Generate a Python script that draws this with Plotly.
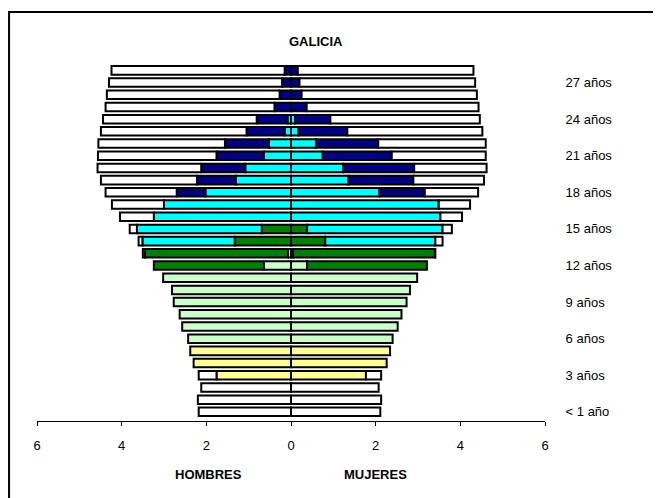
"""Pirámide de población escolarizada - Galicia."""
import plotly.graph_objects as go

# edades 0..28
ages = list(range(29))
tick_ages = [0, 3, 6, 9, 12, 15, 18, 21, 24, 27]
tick_labels = ["< 1 año", "3 años", "6 años", "9 años", "12 años", "15 años",
               "18 años", "21 años", "24 años", "27 años"]

# HOMBRES (miles)
total_h = [2.18, 2.20, 2.12, 2.18, 2.30, 2.38, 2.43, 2.57, 2.63, 2.77, 2.81, 3.02,
           3.24, 3.50, 3.60, 3.81, 4.04, 4.23, 4.38, 4.49, 4.57, 4.56, 4.55, 4.49,
           4.44, 4.38, 4.35, 4.30, 4.24]
infantil_h = [0, 0, 0, 1.76, 2.30, 2.38, 0, 0, 0, 0, 0, 0, 0, 0, 0, 0, 0, 0, 0, 0,
              0, 0, 0, 0, 0, 0, 0, 0, 0]
primaria_h = [0, 0, 0, 0, 0, 0, 2.43, 2.57, 2.63, 2.77, 2.81, 3.02, 0.64, 0.07, 0, 0,
              0, 0, 0, 0, 0, 0, 0, 0, 0, 0, 0, 0, 0]
eso_h = [0, 0, 0, 0, 0, 0, 0, 0, 0, 0, 0, 0, 2.60, 3.38, 1.33, 0.69, 0, 0, 0, 0, 0,
         0, 0, 0, 0, 0, 0, 0, 0]
secundaria_h = [0, 0, 0, 0, 0, 0, 0, 0, 0, 0, 0, 0, 0, 0, 2.18, 2.95, 3.24, 3.00,
                2.02, 1.30, 1.08, 0.64, 0.52, 0.15, 0.08, 0, 0, 0, 0]
universidad_h = [0, 0, 0, 0, 0, 0, 0, 0, 0, 0, 0, 0, 0, 0, 0, 0, 0, 0, 0.68, 0.92,
                 1.04, 1.12, 1.04, 0.90, 0.73, 0.39, 0.27, 0.21, 0.15]

# MUJERES (miles)
total_m = [2.11, 2.13, 2.07, 2.13, 2.26, 2.34, 2.40, 2.52, 2.61, 2.73, 2.81, 2.98,
           3.21, 3.41, 3.58, 3.80, 4.04, 4.23, 4.42, 4.56, 4.62, 4.60, 4.60, 4.52,
           4.46, 4.43, 4.39, 4.35, 4.31]
infantil_m = [0, 0, 0, 1.77, 2.26, 2.34, 0, 0, 0, 0, 0, 0, 0, 0, 0, 0, 0, 0, 0, 0,
              0, 0, 0, 0, 0, 0, 0, 0, 0]
primaria_m = [0, 0, 0, 0, 0, 0, 2.40, 2.52, 2.61, 2.73, 2.81, 2.98, 0.38, 0.05, 0, 0,
              0, 0, 0, 0, 0, 0, 0, 0, 0, 0, 0, 0, 0]
eso_m = [0, 0, 0, 0, 0, 0, 0, 0, 0, 0, 0, 0, 2.83, 3.35, 0.81, 0.38, 0, 0, 0, 0, 0,
         0, 0, 0, 0, 0, 0, 0, 0]
secundaria_m = [0, 0, 0, 0, 0, 0, 0, 0, 0, 0, 0, 0, 0, 0, 2.60, 3.20, 3.53, 3.49,
                2.09, 1.36, 1.24, 0.75, 0.59, 0.18, 0.10, 0, 0, 0, 0]
universidad_m = [0, 0, 0, 0, 0, 0, 0, 0, 0, 0, 0, 0, 0, 0, 0, 0, 0, 0, 1.07, 1.53,
                 1.67, 1.63, 1.47, 1.15, 0.83, 0.37, 0.25, 0.20, 0.16]

levels = [
    ("Infantil", infantil_h, infantil_m, "#FFFF99"),
    ("Primaria", primaria_h, primaria_m, "#CCFFCC"),
    ("ESO", eso_h, eso_m, "#008000"),
    ("Secundaria", secundaria_h, secundaria_m, "#00FFFF"),
    ("Universidad", universidad_h, universidad_m, "#000080"),
]


def rest(total, parts):
    return [max(t - sum(p[i] for p in parts), 0) for i, t in enumerate(total)]


def clean(vals, sign):
    return [sign * v if v > 0.005 else None for v in vals]


fig = go.Figure()
line = dict(color="black", width=2)

for name, h, m, color in levels:
    fig.add_trace(go.Bar(y=ages, x=clean(h, -1), orientation="h", name=name,
                         marker=dict(color=color, line=line), showlegend=False))
    fig.add_trace(go.Bar(y=ages, x=clean(m, 1), orientation="h", name=name,
                         marker=dict(color=color, line=line), showlegend=False))

resto_h = rest(total_h, [lv[1] for lv in levels])
resto_m = rest(total_m, [lv[2] for lv in levels])
fig.add_trace(go.Bar(y=ages, x=clean(resto_h, -1), orientation="h", name="No escolarizados",
                     marker=dict(color="white", line=line), showlegend=False))
fig.add_trace(go.Bar(y=ages, x=clean(resto_m, 1), orientation="h", name="No escolarizadas",
                     marker=dict(color="white", line=line), showlegend=False))

font = "Liberation Sans, Arial, sans-serif"
fig.update_layout(
    width=653, height=490,
    barmode="relative", bargap=0.3,
    paper_bgcolor="white", plot_bgcolor="white",
    margin=dict(l=29, r=116, t=52, b=77),
    font=dict(family=font, size=13, color="black"),
    showlegend=False,
)
fig.update_xaxes(
    range=[-6, 6], tickvals=[-6, -4, -2, 0, 2, 4, 6],
    ticktext=["6", "4", "2", "0", "2", "4", "6"],
    showline=True, linecolor="black", linewidth=1,
    ticks="outside", ticklen=4, tickcolor="black",
    ticklabelstandoff=8, showgrid=False, zeroline=False,
)
fig.update_yaxes(
    range=[-0.75, 28.85], tickvals=tick_ages, ticktext=tick_labels,
    side="right", showline=False, ticks="outside", ticklen=17,
    tickcolor="rgba(0,0,0,0)",
    showgrid=False, zeroline=False,
)

fig.add_annotation(text="<b>GALICIA</b>", xref="paper", yref="paper",
                   x=0.549, y=1.05, yanchor="middle", showarrow=False,
                   font=dict(size=13))
fig.add_annotation(text="<b>HOMBRES</b>", xref="x", yref="paper",
                   x=-1.96, y=-0.147, yanchor="middle", showarrow=False,
                   font=dict(size=13))
fig.add_annotation(text="<b>MUJERES</b>", xref="x", yref="paper",
                   x=1.99, y=-0.147, yanchor="middle", showarrow=False,
                   font=dict(size=13))

# marco del gráfico
fig.add_shape(type="rect", xref="paper", yref="paper",
              x0=-0.055, x1=1.220, y0=-0.22, y1=1.133,
              line=dict(color="black", width=2), fillcolor="rgba(0,0,0,0)")

fig.write_html("out.html")
